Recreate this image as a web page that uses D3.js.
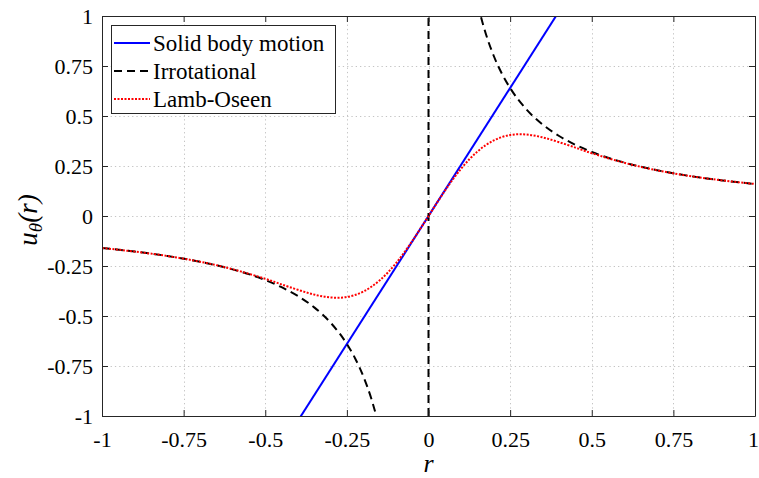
<!DOCTYPE html>
<html>
<head>
<meta charset="utf-8">
<script src="https://cdn.jsdelivr.net/npm/d3@7"></script>
<style>
  body { margin: 0; background: #fff; }
  svg { display: block; }
  text { font-family: "Liberation Serif", "Times New Roman", serif; }
</style>
</head>
<body>
<svg id="chart" width="759" height="478"></svg>
<script>
// tick values on both axes
const ticks = [-1, -0.75, -0.5, -0.25, 0, 0.25, 0.5, 0.75, 1];
const tickLabels = ['-1', '-0.75', '-0.5', '-0.25', '0', '0.25', '0.5', '0.75', '1'];

// solid body motion, straight line through the origin
const solidR = [-0.4, 0.4];
const solidU = [-1.024, 1.024];

// irrotational (jumps through r = 0)
const irrotR = [-1, -0.9, -0.8, -0.7, -0.6, -0.5, -0.45, -0.4, -0.35, -0.3, -0.25, -0.225, -0.2, -0.175, -0.16, -0.15,
    -0.0001, 0.0001,
    0.15, 0.16, 0.175, 0.2, 0.225, 0.25, 0.3, 0.35, 0.4, 0.45, 0.5, 0.6, 0.7, 0.8, 0.9, 1];
const irrotU = [-0.16, -0.178, -0.2, -0.229, -0.267, -0.32, -0.356, -0.4, -0.457, -0.533, -0.64, -0.711, -0.8, -0.914, -1, -1.067,
    -1600, 1600,
    1.067, 1, 0.914, 0.8, 0.711, 0.64, 0.533, 0.457, 0.4, 0.356, 0.32, 0.267, 0.229, 0.2, 0.178, 0.16];

// Lamb-Oseen vortex
const lambR = [-1, -0.9, -0.8, -0.7, -0.6, -0.5, -0.45, -0.4, -0.35, -0.3, -0.25, -0.2, -0.15, -0.1, -0.05, 0,
    0.05, 0.1, 0.15, 0.2, 0.25, 0.3, 0.35, 0.4, 0.45, 0.5, 0.6, 0.7, 0.8, 0.9, 1];
const lambU = [-0.16, -0.178, -0.2, -0.2285, -0.266, -0.314, -0.342, -0.369, -0.393, -0.407, -0.405, -0.378, -0.3225, -0.237, -0.1255, 0,
    0.1255, 0.237, 0.3225, 0.378, 0.405, 0.407, 0.393, 0.369, 0.342, 0.314, 0.266, 0.2285, 0.2, 0.178, 0.16];

const series = [
    { name: 'Solid body motion', r: solidR, u: solidU, color: '#0000ff', dash: null, curve: d3.curveLinear },
    { name: 'Irrotational', r: irrotR, u: irrotU, color: '#000000', dash: '8,5', curve: d3.curveMonotoneX },
    { name: 'Lamb-Oseen', r: lambR, u: lambU, color: '#ff0000', dash: '2,1.5', curve: d3.curveNatural },
];

const svg = d3.select('#chart');
const pLeft = 102, pRight = 755, pTop = 16, pBottom = 416;

const x = d3.scaleLinear().domain([-1, 1]).range([pLeft, pRight]);
const y = d3.scaleLinear().domain([-1, 1]).range([pBottom, pTop]);
const fmt = (d) => tickLabels[ticks.indexOf(d)];

// grid
const grid = svg.append('g').attr('stroke', '#c4c4c4').attr('stroke-width', 1).attr('stroke-dasharray', '1.3,3');
grid.selectAll('.gx').data(ticks.slice(1, -1)).join('line')
    .attr('x1', (d) => Math.round(x(d)) + 0.5).attr('x2', (d) => Math.round(x(d)) + 0.5)
    .attr('y1', pTop).attr('y2', pBottom);
grid.selectAll('.gy').data(ticks.slice(1, -1)).join('line')
    .attr('y1', (d) => Math.round(y(d)) + 0.5).attr('y2', (d) => Math.round(y(d)) + 0.5)
    .attr('x1', pLeft).attr('x2', pRight);

// lines, clipped to the plot box
svg.append('clipPath').attr('id', 'clip').append('rect')
    .attr('x', pLeft).attr('y', pTop).attr('width', pRight - pLeft).attr('height', pBottom - pTop);

const plot = svg.append('g').attr('clip-path', 'url(#clip)');
series.forEach((s) => {
    const pts = s.r.map((r, i) => [r, s.u[i]]);
    const line = d3.line().x((d) => x(d[0])).y((d) => y(d[1])).curve(s.curve);
    plot.append('path')
        .attr('d', line(pts))
        .attr('fill', 'none')
        .attr('stroke', s.color)
        .attr('stroke-width', 2)
        .attr('stroke-dasharray', s.dash);
});

// axes, ticks pointing inwards on all four sides
const axisColor = '#262626';
const styleAxis = (g) => {
    g.attr('font-family', null);
    g.select('.domain').attr('stroke', axisColor);
    g.selectAll('.tick line').attr('stroke', axisColor);
    g.selectAll('.tick text').attr('fill', '#000').style('font-size', '22px')
        .style('font-family', '"Liberation Serif", "Times New Roman", serif');
};

svg.append('g').attr('transform', `translate(0,${pBottom})`)
    .call(d3.axisBottom(x).tickValues(ticks).tickFormat(fmt).tickSizeInner(-6).tickSizeOuter(0).tickPadding(15))
    .call(styleAxis)
    .call((g) => g.selectAll('.tick text').filter((d) => d === 1).attr('dx', -2));
svg.append('g').attr('transform', `translate(${pLeft},0)`)
    .call(d3.axisLeft(y).tickValues(ticks).tickFormat(fmt).tickSizeInner(-6).tickSizeOuter(0).tickPadding(9))
    .call(styleAxis);
svg.append('g').attr('transform', `translate(0,${pTop})`)
    .call(d3.axisTop(x).tickValues(ticks).tickFormat('').tickSizeInner(-6).tickSizeOuter(0))
    .call(styleAxis);
svg.append('g').attr('transform', `translate(${pRight},0)`)
    .call(d3.axisRight(y).tickValues(ticks).tickFormat('').tickSizeInner(-6).tickSizeOuter(0))
    .call(styleAxis);

// axis labels
svg.append('text')
    .attr('x', x(0)).attr('y', 472)
    .attr('text-anchor', 'middle')
    .style('font-size', '26px').style('font-style', 'italic')
    .text('r');

const ylab = svg.append('text')
    .attr('transform', `translate(37,${y(0) + 4}) rotate(-90)`)
    .attr('text-anchor', 'middle')
    .style('font-size', '27px').style('font-style', 'italic');
ylab.append('tspan').text('u');
ylab.append('tspan').attr('dy', 5).style('font-size', '19px').text('θ');
ylab.append('tspan').attr('dy', -5).text('(r)');

// legend
const legend = svg.append('g');
legend.append('rect')
    .attr('x', 111.5).attr('y', 25.5).attr('width', 224).attr('height', 88)
    .attr('fill', '#fff').attr('stroke', axisColor).attr('stroke-width', 1);
series.forEach((s, i) => {
    const yy = 43 + i * 28;
    legend.append('line')
        .attr('x1', 114).attr('x2', 150).attr('y1', yy).attr('y2', yy)
        .attr('stroke', s.color).attr('stroke-width', 2).attr('stroke-dasharray', s.dash);
    legend.append('text')
        .attr('x', 153).attr('y', yy + 8)
        .style('font-size', '23px')
        .text(s.name);
});
</script>
</body>
</html>
